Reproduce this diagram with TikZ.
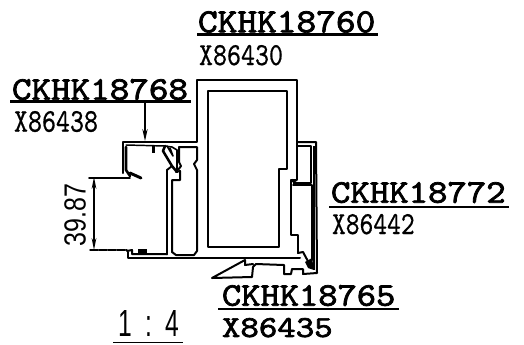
\documentclass[tikz,border=0pt]{standalone}
\usepackage{fontspec}
\usepackage{graphicx}
\usetikzlibrary{arrows.meta}
\newfontfamily\thinsans{Liberation Sans}
\newfontfamily\heavymono[FakeBold=2.2]{Latin Modern Mono}
\newfontfamily\medmono[FakeBold=0.6]{Latin Modern Mono}
\newcommand{\fitb}[3]{\resizebox{#1pt}{#2pt}{\heavymono #3}}
\newcommand{\fit}[3]{\resizebox{#1pt}{#2pt}{\medmono #3}}
\newcommand{\fitsans}[3]{\resizebox{#1pt}{#2pt}{\thinsans #3}}
\tikzset{
  px/.style={x=0.75pt,y=-0.75pt},
  prof/.style={draw=black,line width=1.5pt,line join=round,line cap=round},
  thinprof/.style={draw=black,line width=1.1pt,line join=round},
  rule/.style={draw=black,line width=1.6pt},
  dim/.style={draw=black,line width=1pt},
  lab/.style={inner sep=0pt,outer sep=0pt,anchor=north west},
  dimarrow/.style={draw=black,line width=1pt,{Stealth[length=9pt,width=3.5pt]}-{Stealth[length=9pt,width=3.5pt]}}
}
\begin{document}
\begin{tikzpicture}[px]
\useasboundingbox (0,0) rectangle (524,344);
% labels (sizes in pt = px*0.75)
\node[lab] (a1) at (198,11) {\fitb{133}{16}{CKHK18760}};
\node[lab] (a2) at (199,45) {\fit{63}{15}{X86430}};
\node[lab] (b1) at (12,79) {\fitb{132}{15.5}{CKHK18768}};
\node[lab] (b2) at (14,111) {\fit{63}{15.5}{X86438}};
\node[lab] (c1) at (331,182) {\fitb{131}{15.5}{CKHK18772}};
\node[lab] (c2) at (332,214) {\fit{62}{15}{X86442}};
\node[lab] (d1) at (222,285) {\fitb{130}{15.5}{CKHK18765}};
\node[lab] (d2) at (222,318) {\fitb{83}{14.2}{X86435}};
\node[lab] (sc) at (118,310) {\fitsans{46}{19.5}{1\hspace{0.55em}:\hspace{0.55em}4}};
\node[lab,anchor=south west,rotate=90,inner sep=0pt] (dv) at (86,246) {\fitsans{47}{16}{39.87}};
% underlines
\draw[rule] (197,34.5) -- (378,34.5);
\draw[rule] (10,101.5) -- (191,101.5);
\draw[rule] (329,207) -- (509,207);
\draw[rule] (218,309) -- (399,309);
\draw[dim] (113,342.5) -- (183,342.5);
% pointer
\coordinate (p0) at (145,102);
\coordinate (p1) at (145,141);
\draw[draw=black,line width=1pt,-{Stealth[length=9pt,width=4pt]}] (p0) -- (p1);
% dimension
\coordinate (t) at (94,177);
\coordinate (u) at (94,250);
\draw[dimarrow] (t) -- (u);
\draw[prof,line width=1.2pt] (89,178) -- (130,178);
\draw[prof,line width=1.1pt,dash pattern=on 6pt off 0.8pt] (90,250) -- (127,250);
% main tube outer + side + base
\draw[prof] (123,173) -- (123,142) -- (197,142) -- (197,80) -- (297,80) -- (297,180) -- (291,180) -- (291,235) -- (298,235) -- (298,253);
\draw[prof] (208,91) -- (287,91) -- (287,169) -- (279,169) -- (279,247) -- (208,247) -- cycle;
% right side piece
\draw[prof] (297,142) -- (316,142) -- (317,273) -- (303,274) -- (303,269) -- (292,269) -- (291,274) -- (284,274) -- (284,265) -- (256,264) -- (253,267) -- (252,277) -- (212,278) -- (245,260) -- (245,265) -- (253,264);
\draw[thinprof] (298,146) -- (311,146) -- (311,183) -- (293,183);
\draw[thinprof] (314,146) -- (314,270);
\draw[prof,line width=2pt] (292,180) -- (297,184);
\draw[prof] (293,185) -- (312,185) -- (312,260);
\draw[prof] (298,253) -- (303,252) -- (310,265) -- (314,266);
\fill (305,262) -- (312,258) -- (314,270) -- (308,268) -- cycle;
% base line
\draw[prof] (128,252) -- (128,258) -- (300,258);
\draw[prof] (127,251) -- (132,250) -- (132,254) -- (167,254);
\draw[prof,line width=2pt] (167,254) -- (167,170);
\fill (138,249) rectangle (147,253);
% second channel
\draw[prof] (179,147) -- (197,147) -- (197,160) -- (194,164) -- (197,170) -- (197,251) -- (194,255) -- (176,255) -- (172,252) -- (172,180) -- (180,180) -- (180,171) -- (176,172);
\draw[prof] (179,147) -- (179,162) -- (181,166) -- (178,170);
% left profile inner
\draw[prof,line width=1.9pt] (126,147) -- (126,170) -- (130,176);
\draw[prof,line width=1.1pt] (126,145) -- (165,146) -- (172,147);
\draw[prof,line width=2.2pt] (130,173) -- (141,178);
\fill (152,146) rectangle (155,153);
% hook detail
\draw[prof,line width=1.9pt] (165,146) -- (163,151) -- (172,166) -- (177,172);
\draw[prof,line width=1.2pt] (172,147) -- (177,150) -- (177,172);
\draw[prof,line width=1.2pt] (167,146) -- (173,156) -- (170,148);
\draw[prof,line width=1.4pt] (172,166) -- (167,170);
\end{tikzpicture}
\end{document}
